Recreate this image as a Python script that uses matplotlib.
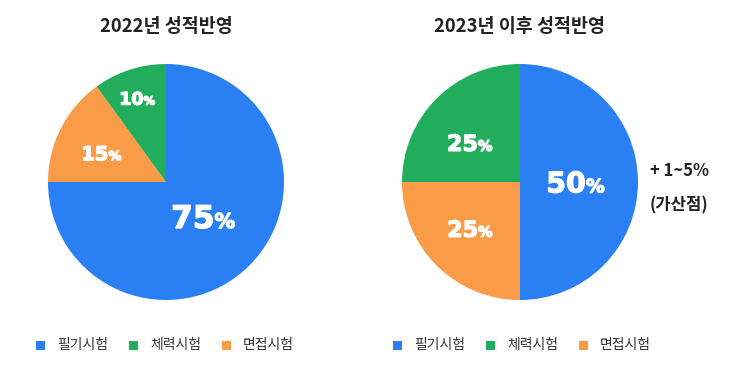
import matplotlib
matplotlib.use("Agg")
import matplotlib.pyplot as plt
from matplotlib.patches import Rectangle
from matplotlib import transforms
import matplotlib.patheffects as pe
import numpy as np

# ---- data ----
titles = ["2022년 성적반영", "2023년 이후 성적반영"]
categories = ["필기시험", "체력시험", "면접시험"]
values_2022 = [75, 10, 15]   # 필기, 체력, 면접
values_2023 = [50, 25, 25]
bonus_text = ["+ 1~5%", "(가산점)"]

# ---- style ----
colors = {"필기시험": "#2a80f2", "체력시험": "#22ad5c", "면접시험": "#f99b47"}
draw_order = ["필기시험", "면접시험", "체력시험"]  # clockwise from top
W, H = 743, 373
KR = ["Noto Sans CJK KR", "DejaVu Sans"]
NUMF = ["DejaVu Sans"]

plt.rcParams['font.family'] = KR
fig = plt.figure(figsize=(W / 100, H / 100), dpi=100)

pies = [
    dict(cx=166, cy=182, r=118, vals=values_2022,
         lab={"필기시험": (-43, 0.43, 22.5), "면접시험": (156, 0.60, 14), "체력시험": (109, 0.75, 12.5)}),
    dict(cx=520, cy=182, r=118, vals=values_2023,
         lab={"필기시험": (0, 0.47, 20.5), "면접시험": (223, 0.58, 16), "체력시험": (142, 0.54, 16)}),
]

fig.canvas.draw()
renderer = fig.canvas.get_renderer()
thick = [pe.withStroke(linewidth=0.9, foreground="white")]

for i, p in enumerate(pies):
    ax = fig.add_axes([(p["cx"] - p["r"]) / W, (H - p["cy"] - p["r"]) / H,
                       2 * p["r"] / W, 2 * p["r"] / H])
    vals = [p["vals"][categories.index(c)] for c in draw_order]
    ax.pie(vals, colors=[colors[c] for c in draw_order], startangle=90,
           counterclock=False, radius=1.0, wedgeprops=dict(linewidth=0))
    ax.set_xlim(-1, 1)
    ax.set_ylim(-1, 1)
    ax.set_aspect("equal")
    ax.axis("off")

    for c in draw_order:
        ang, rr, fs = p["lab"][c]
        v = p["vals"][categories.index(c)]
        x = rr * np.cos(np.radians(ang))
        y = rr * np.sin(np.radians(ang))
        t1 = ax.text(x, y, f"{v}", fontsize=fs, color="white", fontweight="bold",
                     family=NUMF, ha="left", va="baseline", path_effects=thick)
        t2 = ax.text(x, y, "%", fontsize=fs * 0.66, color="white", fontweight="bold",
                     family=NUMF, ha="left", va="baseline", path_effects=thick)
        w1 = t1.get_window_extent(renderer).width
        w2 = t2.get_window_extent(renderer).width
        gap = 0.0
        tot = w1 + w2 + gap
        cap = 0.73 * fs * 100 / 72
        t1.set_transform(transforms.offset_copy(ax.transData, fig, x=-tot / 2, y=-cap / 2, units="dots"))
        t2.set_transform(transforms.offset_copy(ax.transData, fig, x=-tot / 2 + w1 + gap, y=-cap / 2, units="dots"))

    fig.text(p["cx"] / W, 1 - 27 / H, titles[i], ha="center", va="center",
             fontsize=13.3, fontweight="bold", color="#222222")

# bonus annotation
fig.text(679 / W, 1 - 171 / H, bonus_text[0], ha="center", va="center",
         fontsize=12, fontweight="bold", color="#222222")
fig.text(679 / W, 1 - 205 / H, bonus_text[1], ha="center", va="center",
         fontsize=12, fontweight="bold", color="#222222")

# legends
leg_starts = [36, 393]
for x0 in leg_starts:
    for j, c in enumerate(categories):
        sx = x0 + j * 93
        fig.patches.append(Rectangle((sx / W, 1 - 350 / H), 9 / W, 9 / H,
                                     transform=fig.transFigure, color=colors[c], lw=0))
        fig.text((sx + 21) / W, 1 - 345 / H, c, ha="left", va="center",
                 fontsize=10, color="#333333")

fig.savefig("out.png", dpi=100)
